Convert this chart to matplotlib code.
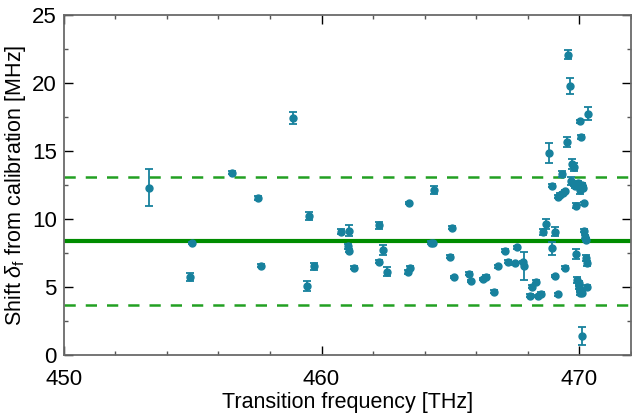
import numpy as np
import matplotlib.pyplot as plt
from matplotlib.ticker import MultipleLocator

plt.rcParams['font.family'] = ['Liberation Sans', 'DejaVu Sans']
plt.rcParams['mathtext.fontset'] = 'custom'
plt.rcParams['mathtext.rm'] = 'Liberation Sans'
plt.rcParams['mathtext.it'] = 'Liberation Sans:italic'

# =====================================================
# DATA
# =====================================================

freq = [
    453.31, 454.99, 454.91, 456.53, 457.53, 457.67, 458.91, 459.52, 459.44, 459.70,
    460.77, 461.08, 461.04, 461.08, 461.27, 462.24, 462.39, 462.24, 462.53, 463.38,
    463.36, 463.42, 464.36, 464.26, 464.34, 465.06, 465.00, 465.14, 465.71, 465.81,
    466.26, 466.39, 466.71, 466.83, 467.12, 467.23, 467.50, 467.57, 467.82, 467.87,
    468.09, 468.18, 468.32, 468.39, 468.52, 468.59, 468.73, 468.81, 468.93, 468.96,
    469.08, 469.05, 469.17, 469.19, 469.25, 469.33, 469.38, 469.44, 469.44, 469.52,
    469.55, 469.66, 469.70, 469.74, 469.78, 469.81, 469.83, 469.86, 469.88, 469.92,
    469.96, 469.98, 470.00, 470.02, 470.03, 470.03, 470.06, 470.05, 470.09, 470.10,
    470.12, 470.15, 470.19, 470.18, 470.24, 470.28, 470.26, 470.32, 470.29, 470.34,
]

shift = [
    12.32, 8.23, 5.73, 13.40, 11.54, 6.59, 17.45, 10.22, 5.10, 6.52,
    9.09, 9.16, 7.99, 7.67, 6.44, 9.56, 7.74, 6.88, 6.15, 11.18,
    6.12, 6.44, 12.13, 8.28, 8.21, 9.36, 7.23, 5.74, 5.98, 5.46,
    5.61, 5.76, 4.68, 6.52, 7.67, 6.88, 6.74, 7.94, 6.85, 6.55,
    4.38, 5.04, 5.41, 4.36, 4.51, 9.06, 9.63, 14.85, 12.45, 7.87,
    9.09, 5.83, 4.48, 11.66, 11.79, 13.31, 11.91, 12.03, 6.44, 15.66,
    22.08, 19.80, 12.77, 14.05, 13.80, 12.57, 12.40, 7.45, 11.00, 5.54,
    12.65, 5.29, 5.04, 4.80, 12.15, 17.18, 16.03, 4.56, 12.52, 1.42,
    4.60, 12.28, 11.15, 9.16, 8.68, 8.48, 7.13, 6.76, 5.04, 17.74,
]

err = [
    1.36, 0.08, 0.29, 0.10, 0.15, 0.08, 0.45, 0.29, 0.37, 0.25,
    0.20, 0.43, 0.15, 0.12, 0.10, 0.25, 0.37, 0.12, 0.35, 0.10,
    0.15, 0.15, 0.32, 0.08, 0.08, 0.12, 0.10, 0.10, 0.10, 0.10,
    0.10, 0.10, 0.10, 0.12, 0.10, 0.10, 0.10, 0.12, 0.10, 1.00,
    0.10, 0.10, 0.10, 0.10, 0.10, 0.25, 0.37, 0.74, 0.10, 0.48,
    0.30, 0.10, 0.10, 0.10, 0.10, 0.20, 0.10, 0.10, 0.10, 0.36,
    0.34, 0.59, 0.30, 0.35, 0.30, 0.12, 0.12, 0.36, 0.15, 0.20,
    0.15, 0.20, 0.15, 0.15, 0.30, 0.10, 0.12, 0.15, 0.15, 0.64,
    0.10, 0.15, 0.12, 0.12, 0.12, 0.12, 0.20, 0.20, 0.15, 0.49,
]

mean_shift = 8.40
band_upper = 13.13
band_lower = 3.68

# =====================================================
# PLOT
# =====================================================

fig = plt.figure(figsize=(6.32, 4.15), dpi=100)
ax = fig.add_axes([0.101, 0.144, 0.897, 0.820])

ax.axhline(mean_shift, color="#008c00", lw=3.0, zorder=1)
ax.axhline(band_upper, color="#22a022", lw=1.8, ls=(0, (4.5, 4.0)), zorder=1)
ax.axhline(band_lower, color="#22a022", lw=1.8, ls=(0, (4.5, 4.0)), zorder=1)

ax.errorbar(freq, shift, yerr=err, fmt="o", color="#17819d", ms=5.0,
            elinewidth=1.3, capsize=3.2, capthick=1.3, zorder=3)

ax.set_xlim(450, 472)
ax.set_ylim(0, 25)
ax.xaxis.set_major_locator(MultipleLocator(10))
ax.xaxis.set_minor_locator(MultipleLocator(2))
ax.yaxis.set_major_locator(MultipleLocator(5))
ax.yaxis.set_minor_locator(MultipleLocator(2.5))

ax.tick_params(which="both", direction="in", top=True, right=True, labelsize=16)
ax.tick_params(which="major", length=6.5, width=1.0, color="black")
ax.tick_params(which="minor", length=3.2, width=1.0, color="#555555")
ax.tick_params(axis="x", pad=10)
ax.tick_params(axis="y", pad=5)

for s in ax.spines.values():
    s.set_color("#6a6a6a")
    s.set_linewidth(1.3)

ax.set_xlabel("Transition frequency [THz]", fontsize=15.5, labelpad=1)
ax.set_ylabel(r"Shift $\delta_\mathrm{f}$ from calibration [MHz]", fontsize=15.5, labelpad=3)

plt.savefig("out.png", dpi=100)
plt.close()
